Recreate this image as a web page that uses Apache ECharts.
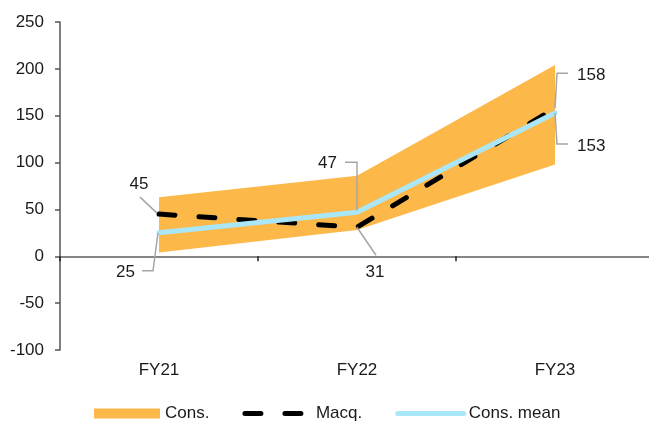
<!DOCTYPE html>
<html>
<head>
<meta charset="utf-8">
<script src="https://cdn.jsdelivr.net/npm/echarts@6/dist/echarts.min.js"></script>
<style>
  html, body { margin: 0; padding: 0; background: #fff; overflow: hidden; }
  /* the value axis runs slightly past the right edge of the window */
  #chart { width: 656px; height: 421px; }
</style>
</head>
<body>
<div id="chart"></div>
<script>
// Fiscal years on the category axis
const categories = ['FY21', 'FY22', 'FY23'];
// Consensus range (low / high) per year
const consLow = [4, 28, 98];
const consHigh = [63, 86, 204];
// Macquarie forecast and consensus mean
const macq = [45, 31, 158];
const consMean = [25, 47, 153];
// Value axis ticks
const yMin = -100;
const yMax = 250;
const yStep = 50;

const FONT = '"Liberation Sans", Arial, sans-serif';
const FONT_SIZE = 17;
const ORANGE = '#FDB84A';
const LIGHT_BLUE = '#A9E6F8';
const TEXT = '#1a1a1a';
const NO_FILL = 'rgba(0,0,0,0)';

// Upper part of the consensus band, stacked on top of the low edge
const consSpread = consHigh.map((h, i) => h - consLow[i]);

// Value callouts: which series/point, the leader path (pixel offsets from the point)
// and where the text sits relative to the point.
const sources = { macq: macq, consMean: consMean };
const callouts = [
  { src: 'macq',     idx: 0, path: [[-2, -1], [-19, -17]],           tx: -20, ty: -30, align: 'center' },
  { src: 'consMean', idx: 0, path: [[-1, 0], [-6, 38], [-17, 38]],   tx: -24, ty: 39,  align: 'right' },
  { src: 'consMean', idx: 1, path: [[0, -2], [0, -50], [-12, -50]],  tx: -20, ty: -49, align: 'right' },
  { src: 'macq',     idx: 1, path: [[0, 0], [19, 28]],               tx: 18,  ty: 45,  align: 'center' },
  { src: 'macq',     idx: 2, path: [[0, 0], [2, -35], [13, -35]],    tx: 22,  ty: -33, align: 'left' },
  { src: 'consMean', idx: 2, path: [[0, 0], [2, 31], [13, 31]],      tx: 22,  ty: 33,  align: 'left' }
];
const calloutData = callouts.map(c => [c.idx, sources[c.src][c.idx]]);

const chart = echarts.init(document.getElementById('chart'), null, { renderer: 'canvas' });

chart.setOption({
  animation: false,
  backgroundColor: '#fff',
  textStyle: { fontFamily: FONT },
  grid: { left: 60, top: 22, width: 594, height: 328, containLabel: false },
  legend: {
    left: 94,
    top: 405,
    padding: 0,
    itemWidth: 66,
    itemHeight: 10,
    itemGap: 33,
    textStyle: { fontFamily: FONT, fontSize: FONT_SIZE, color: TEXT },
    data: [
      { name: 'Cons.', icon: 'rect', itemStyle: { color: ORANGE } },
      {
        name: 'Macq.',
        itemStyle: { color: NO_FILL, borderWidth: 0 },
        lineStyle: { color: '#000', width: 5, type: [16, 24], cap: 'round' }
      },
      {
        name: 'Cons. mean',
        itemStyle: { color: NO_FILL, borderWidth: 0 },
        lineStyle: { color: LIGHT_BLUE, width: 5, cap: 'round' }
      }
    ]
  },
  xAxis: [
    {
      type: 'category',
      data: categories,
      boundaryGap: true,
      axisLine: { onZero: true, lineStyle: { color: '#858585', width: 2 } },
      axisTick: { show: true, length: 5, interval: 0, lineStyle: { color: '#222', width: 1.5 } },
      axisLabel: { show: false },
      splitLine: { show: false }
    },
    {
      type: 'category',
      data: categories,
      position: 'bottom',
      boundaryGap: true,
      axisLine: { show: false, onZero: false },
      axisTick: { show: false },
      axisLabel: { margin: 12, fontFamily: FONT, fontSize: FONT_SIZE, color: TEXT },
      splitLine: { show: false }
    }
  ],
  yAxis: {
    type: 'value',
    min: yMin,
    max: yMax,
    interval: yStep,
    axisLine: { show: true, onZero: false, lineStyle: { color: '#555', width: 1.5 } },
    axisTick: { show: true, length: 5, lineStyle: { color: '#555', width: 1.5 } },
    axisLabel: { margin: 16, fontFamily: FONT, fontSize: FONT_SIZE, color: TEXT },
    splitLine: { show: false }
  },
  series: [
    {
      name: 'consLow',
      type: 'line',
      stack: 'band',
      data: consLow,
      symbol: 'none',
      lineStyle: { width: 0, opacity: 0 },
      areaStyle: { opacity: 0 },
      silent: true,
      z: 1
    },
    {
      name: 'Cons.',
      type: 'line',
      stack: 'band',
      data: consSpread,
      color: ORANGE,
      symbol: 'none',
      lineStyle: { width: 0, opacity: 0 },
      areaStyle: { color: ORANGE, opacity: 1 },
      z: 2
    },
    {
      name: 'Macq.',
      type: 'line',
      data: macq,
      color: '#000',
      symbol: 'none',
      lineStyle: { color: '#000', width: 5, type: [16, 24], cap: 'round' },
      z: 3
    },
    {
      name: 'Cons. mean',
      type: 'line',
      data: consMean,
      color: LIGHT_BLUE,
      symbol: 'none',
      lineStyle: { color: LIGHT_BLUE, width: 5, cap: 'round' },
      z: 4
    },
    {
      name: 'callouts',
      type: 'custom',
      data: calloutData,
      clip: false,
      silent: true,
      z: 5,
      renderItem: function (params, api) {
        const c = callouts[params.dataIndex];
        const p = api.coord([api.value(0), api.value(1)]);
        const pts = c.path.map(o => [p[0] + o[0], p[1] + o[1]]);
        return {
          type: 'group',
          children: [
            {
              type: 'polyline',
              shape: { points: pts },
              style: { stroke: '#a6a6a6', lineWidth: 1.5, fill: null }
            },
            {
              type: 'text',
              style: {
                text: String(api.value(1)),
                x: p[0] + c.tx,
                y: p[1] + c.ty,
                align: c.align,
                verticalAlign: 'middle',
                fill: TEXT,
                font: FONT_SIZE + 'px ' + FONT
              }
            }
          ]
        };
      }
    }
  ]
});
</script>
</body>
</html>
